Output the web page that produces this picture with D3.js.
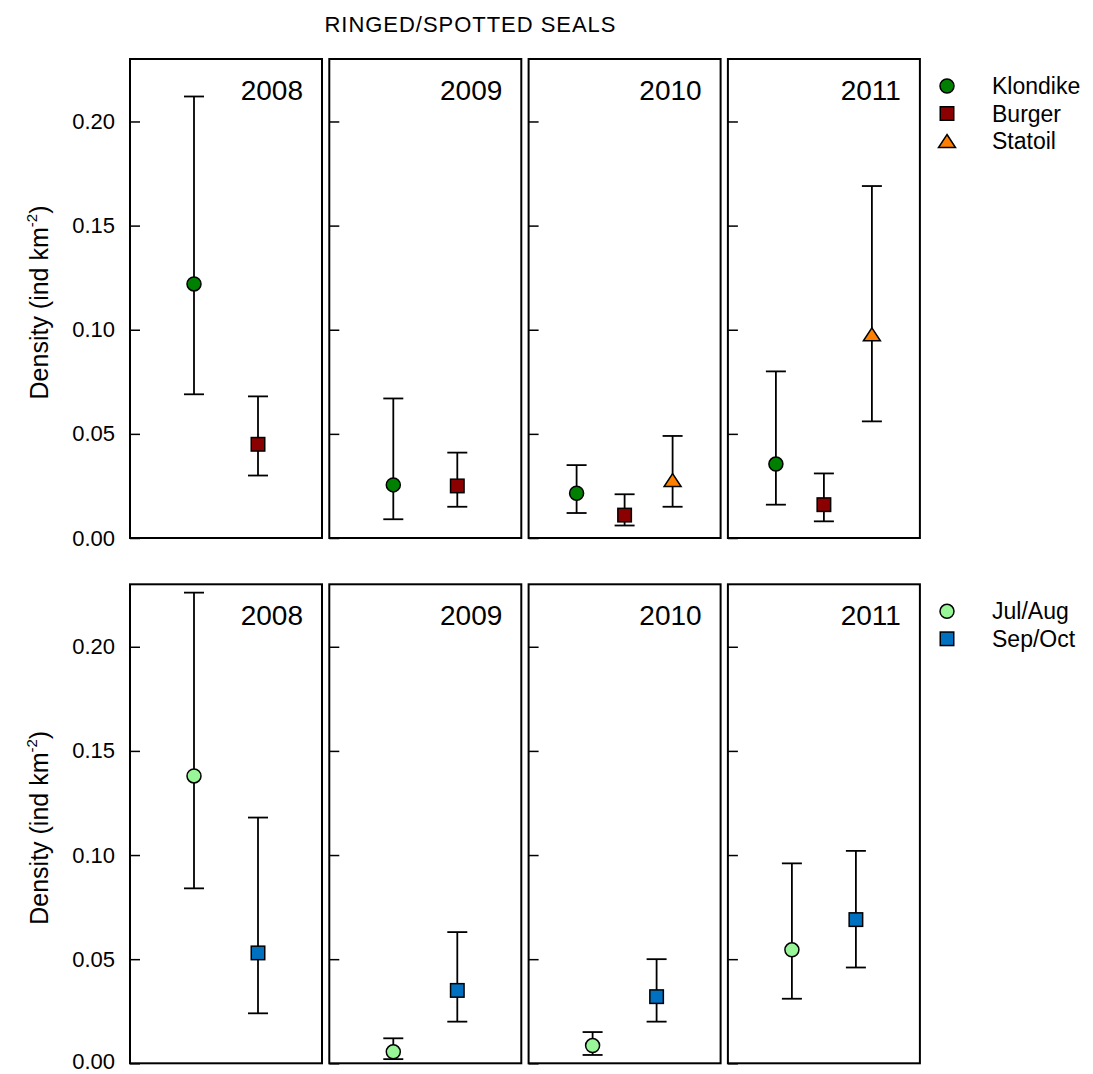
<!DOCTYPE html>
<html>
<head>
<meta charset="utf-8">
<script src="https://cdn.jsdelivr.net/npm/d3@7"></script>
<style>
  body { margin: 0; background: #fff; }
  text { font-family: Arial, "Liberation Sans", Helvetica, sans-serif; fill: #000; }
</style>
</head>
<body>
<svg id="chart" width="1093" height="1074"></svg>
<script>
// ---- data -------------------------------------------------------------
const years = ["2008", "2009", "2010", "2011"];
const yTicks = [0, 0.05, 0.10, 0.15, 0.20];

// Top row: density by site (estimate, lower and upper confidence limits)
const siteNames = ["Klondike", "Burger", "Statoil"];
const klondikeEst = [0.122, 0.0255, 0.0215, 0.0355];
const klondikeLo  = [0.069, 0.009, 0.012, 0.016];
const klondikeHi  = [0.212, 0.067, 0.035, 0.080];
const burgerEst   = [0.045, 0.025, 0.011, 0.016];
const burgerLo    = [0.030, 0.015, 0.006, 0.008];
const burgerHi    = [0.068, 0.041, 0.021, 0.031];
const statoilEst  = [null, null, 0.0278, 0.0978];
const statoilLo   = [null, null, 0.015, 0.056];
const statoilHi   = [null, null, 0.049, 0.169];

// Bottom row: density by season
const seasonNames = ["Jul/Aug", "Sep/Oct"];
const julAugEst = [0.138, 0.0055, 0.0085, 0.0545];
const julAugLo  = [0.084, 0.002, 0.004, 0.031];
const julAugHi  = [0.226, 0.012, 0.015, 0.096];
const sepOctEst = [0.053, 0.035, 0.032, 0.069];
const sepOctLo  = [0.024, 0.020, 0.020, 0.046];
const sepOctHi  = [0.118, 0.063, 0.050, 0.102];

// ---- series styling ---------------------------------------------------
const topSeries = [
  { name: siteNames[0], est: klondikeEst, lo: klondikeLo, hi: klondikeHi, shape: "circle",   fill: "#008000" },
  { name: siteNames[1], est: burgerEst,   lo: burgerLo,   hi: burgerHi,   shape: "square",   fill: "#8b0000" },
  { name: siteNames[2], est: statoilEst,  lo: statoilLo,  hi: statoilHi,  shape: "triangle", fill: "#ff8000" }
];
const bottomSeries = [
  { name: seasonNames[0], est: julAugEst, lo: julAugLo, hi: julAugHi, shape: "circle", fill: "#98f598" },
  { name: seasonNames[1], est: sepOctEst, lo: sepOctLo, hi: sepOctHi, shape: "square", fill: "#0070c0" }
];

// ---- layout -----------------------------------------------------------
const svg = d3.select("#chart");
const panelLeft = 130, panelW = 192, panelStep = 199.3;
const rows = [
  { y0: 59,    y1: 538,    series: topSeries },
  { y0: 584.3, y1: 1063.3, series: bottomSeries }
];
const capHalf = 10;

function drawMarker(g, shape, x, y, fill) {
  if (shape === "circle") {
    g.append("circle").attr("cx", x).attr("cy", y).attr("r", 7)
      .attr("fill", fill).attr("stroke", "#000").attr("stroke-width", 1.5);
  } else if (shape === "square") {
    g.append("rect").attr("x", x - 6.75).attr("y", y - 6.75)
      .attr("width", 13.5).attr("height", 13.5)
      .attr("fill", fill).attr("stroke", "#000").attr("stroke-width", 1.5);
  } else {
    const hw = 8.5, hh = 6.5;
    g.append("path")
      .attr("d", `M${x},${y - hh}L${x + hw},${y + hh}L${x - hw},${y + hh}Z`)
      .attr("fill", fill).attr("stroke", "#000").attr("stroke-width", 1.5)
      .attr("stroke-linejoin", "miter");
  }
}

// Title
svg.append("text")
  .attr("x", 470).attr("y", 32)
  .attr("text-anchor", "middle")
  .attr("font-size", 22)
  .attr("textLength", 291)
  .attr("lengthAdjust", "spacing")
  .text("RINGED/SPOTTED SEALS");

rows.forEach((row) => {
  const y = d3.scaleLinear().domain([0, 0.23]).range([row.y1, row.y0]);

  // y-axis title
  const yt = svg.append("text")
    .attr("transform", `translate(48,${(row.y0 + row.y1) / 2 + 4}) rotate(-90)`)
    .attr("text-anchor", "middle")
    .attr("font-size", 25);
  yt.append("tspan").text("Density (ind km");
  yt.append("tspan").attr("font-size", 15).attr("dy", -11).text("-2");
  yt.append("tspan").attr("dy", 11).text(")");

  years.forEach((yr, i) => {
    const px = panelLeft + i * panelStep;
    const g = svg.append("g").attr("transform", `translate(${px},0)`);

    // inward ticks; labels only on the first panel
    const axis = d3.axisLeft(y).tickValues(yTicks)
      .tickSizeInner(-10).tickSizeOuter(0).tickPadding(15)
      .tickFormat(i === 0 ? d3.format(".2f") : () => "");
    const ag = g.append("g").call(axis);
    ag.select(".domain").remove();
    ag.selectAll(".tick line").attr("stroke", "#000").attr("stroke-width", 1.5);
    ag.selectAll(".tick text").attr("font-size", 22)
      .attr("font-family", "Arial, 'Liberation Sans', sans-serif").attr("fill", "#000");
    // keep the lowest label of the bottom row clear of the page edge
    ag.selectAll(".tick text").filter(d => d === 0 && row.y1 > 1000).attr("dy", "0.24em");

    // frame
    g.append("rect").attr("x", 0).attr("y", row.y0)
      .attr("width", panelW).attr("height", row.y1 - row.y0)
      .attr("fill", "none").attr("stroke", "#000").attr("stroke-width", 2);

    // year label
    g.append("text").attr("x", panelW - 19).attr("y", row.y0 + 41)
      .attr("text-anchor", "end").attr("font-size", 28).text(yr);

    // categories present in this year
    const present = row.series.filter(s => s.est[i] != null);
    const x = d3.scalePoint().domain(present.map(s => s.name))
      .range([0, panelW]).padding(1);

    present.forEach(s => {
      const cx = x(s.name);
      const eb = g.append("g").attr("stroke", "#000").attr("stroke-width", 1.8);
      eb.append("line").attr("x1", cx).attr("x2", cx)
        .attr("y1", y(s.lo[i])).attr("y2", y(s.hi[i]));
      [s.lo[i], s.hi[i]].forEach(v => {
        eb.append("line").attr("x1", cx - capHalf).attr("x2", cx + capHalf)
          .attr("y1", y(v)).attr("y2", y(v));
      });
      drawMarker(g, s.shape, cx, y(s.est[i]), s.fill);
    });
  });

  // legend
  const lg = svg.append("g");
  const ly0 = row.y0 + 27;
  row.series.forEach((s, k) => {
    const ly = ly0 + k * 27.5;
    drawMarker(lg, s.shape, 947, ly, s.fill);
    lg.append("text").attr("x", 992).attr("y", ly + 8)
      .attr("font-size", 23).text(s.name);
  });
});
</script>
</body>
</html>
